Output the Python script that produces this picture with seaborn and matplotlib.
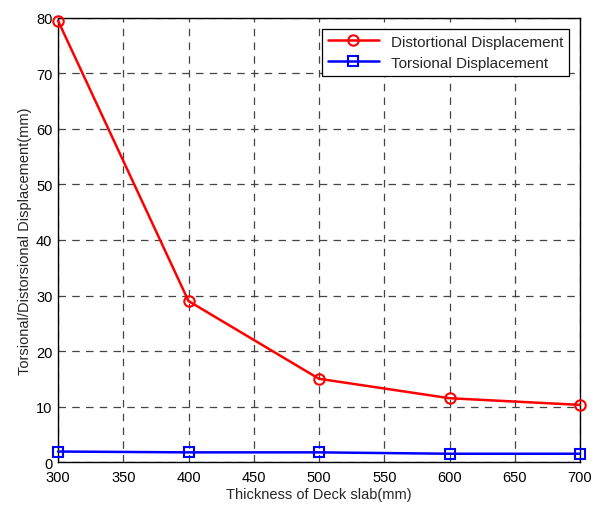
import matplotlib
matplotlib.use("Agg")
import matplotlib.pyplot as plt
import seaborn as sns
import pandas as pd

thickness = [300, 400, 500, 600, 700]
distortional = [79.5, 29.0, 15.0, 11.5, 10.3]
torsional = [1.9, 1.75, 1.75, 1.5, 1.5]
x_ticks = [300, 350, 400, 450, 500, 550, 600, 650, 700]
y_ticks = [0, 10, 20, 30, 40, 50, 60, 70, 80]

sns.set_style("white")
plt.rcParams['font.family'] = ['Liberation Sans', 'DejaVu Sans']

df = pd.DataFrame({
    "x": thickness * 2,
    "y": distortional + torsional,
    "s": ["Distortional Displacement"] * 5 + ["Torsional Displacement"] * 5,
})

fig = plt.figure(figsize=(5.98, 5.10), dpi=100)
ax = fig.add_axes([0.097, 0.092, 0.873, 0.871])

sns.lineplot(data=df[df.s == "Distortional Displacement"], x="x", y="y", ax=ax,
             color="red", marker="o", markersize=7.5, markerfacecolor="none",
             markeredgecolor="red", markeredgewidth=1.5, linewidth=1.8,
             label="Distortional Displacement", clip_on=False, zorder=5)
sns.lineplot(data=df[df.s == "Torsional Displacement"], x="x", y="y", ax=ax,
             color="blue", marker="s", markersize=7.5, markerfacecolor="none",
             markeredgecolor="blue", markeredgewidth=1.5, linewidth=1.8,
             label="Torsional Displacement", clip_on=False, zorder=5)

ax.set_xlim(300, 700)
ax.set_ylim(0, 80)
ax.set_xticks(x_ticks)
ax.set_yticks(y_ticks)
ax.grid(True, linestyle=(0, (6, 5)), color="#444444", linewidth=0.9)
ax.tick_params(direction="in", length=4, labelsize=10.5, colors="black")
ax.tick_params(axis="x", pad=6)
ax.tick_params(axis="y", pad=4)
for s in ax.spines.values():
    s.set_color("black")
    s.set_linewidth(1.0)
ax.set_xlabel("Thickness of Deck slab(mm)", fontsize=10.5, labelpad=2)
ax.set_ylabel("Torsional/Distorsional Displacement(mm)", fontsize=10.5, labelpad=3)

leg = ax.legend(loc="upper right", fontsize=11, frameon=True, fancybox=False,
                edgecolor="black", framealpha=1, borderpad=0.4, labelspacing=0.45,
                handlelength=3.3, borderaxespad=0.7)
leg.get_frame().set_linewidth(0.9)
leg.set_zorder(10)

fig.savefig("out.png", dpi=100)
